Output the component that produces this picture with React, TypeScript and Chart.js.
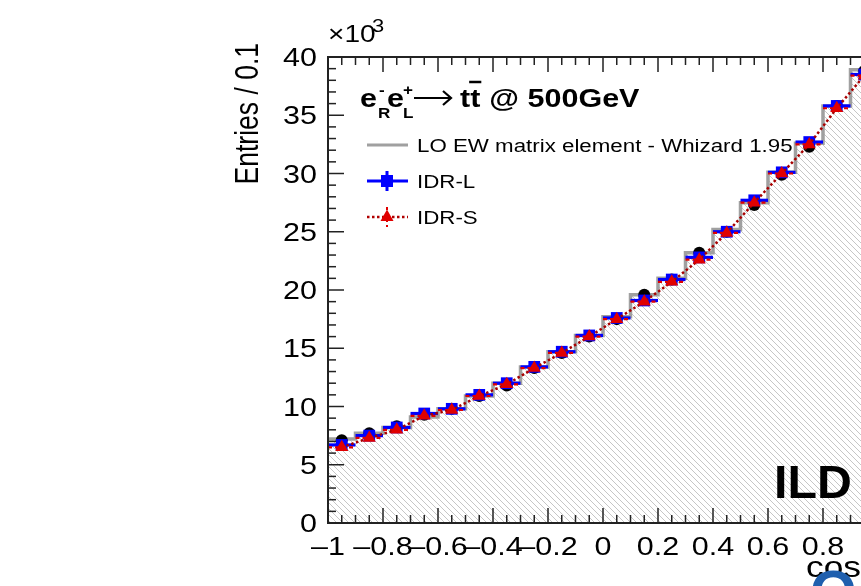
import React, { useEffect, useRef } from "react";
import { Chart, registerables } from "chart.js";

Chart.register(...registerables);

// ---- data (y values in units of 10^3 entries per 0.1 bin) ----
const binEdges = [-1, -0.9, -0.8, -0.7, -0.6, -0.5, -0.4, -0.3, -0.2, -0.1, 0, 0.1, 0.2, 0.3, 0.4, 0.5, 0.6, 0.7, 0.8, 0.9, 1];
const loWhizard = [7.2, 7.7, 8.2, 9.1, 9.8, 10.9, 12.0, 13.4, 14.7, 16.1, 17.7, 19.6, 21.0, 23.2, 25.2, 27.5, 30.1, 32.6, 35.8, 38.9];
const reference = [7.1, 7.7, 8.3, 9.3, 9.8, 10.9, 11.8, 13.3, 14.6, 16.0, 17.5, 19.6, 20.9, 23.2, 25.0, 27.3, 29.9, 32.3, 35.8, 38.8];
const idrL = [6.7, 7.5, 8.2, 9.4, 9.8, 11.0, 12.0, 13.4, 14.7, 16.1, 17.6, 19.1, 20.9, 22.8, 25.0, 27.7, 30.1, 32.7, 35.8, 38.5];
const idrS = [6.5, 7.3, 8.0, 9.2, 9.7, 10.9, 11.9, 13.3, 14.6, 16.0, 17.5, 19.0, 20.7, 22.6, 24.9, 27.5, 30.0, 32.5, 35.6, 38.4];

const yTickValues = [0, 5, 10, 15, 20, 25, 30, 35, 40];
const yTickLabels = ["0", "5", "10", "15", "20", "25", "30", "35", "40"];
const xTickValues = [-1, -0.8, -0.6, -0.4, -0.2, 0, 0.2, 0.4, 0.6, 0.8, 1];
const xTickLabels = ["\u20131", "\u20130.8", "\u20130.6", "\u20130.4", "\u20130.2", "0", "0.2", "0.4", "0.6", "0.8", "1"];
const legendLabels = ["LO EW matrix element - Whizard 1.95", "IDR-L", "IDR-S"];
const yAxisTitle = "Entries / 0.1";
const xAxisTitle = "cos\u03B8";

const FONT = '"Liberation Sans", Arial, Helvetica, sans-serif';
const SX = 1.22;

function txt(ctx: CanvasRenderingContext2D, s: string, x: number, y: number, font: string, align: CanvasTextAlign = "left", color = "#000", sx = SX) {
  ctx.save();
  ctx.translate(x, y);
  ctx.scale(sx, 1);
  ctx.font = font;
  ctx.textAlign = align;
  ctx.textBaseline = "alphabetic";
  ctx.fillStyle = color;
  ctx.fillText(s, 0, 0);
  ctx.restore();
}
function tw(ctx: CanvasRenderingContext2D, s: string, font: string, sx = SX) {
  ctx.save();
  ctx.font = font;
  const w = ctx.measureText(s).width * sx;
  ctx.restore();
  return w;
}

const centers = binEdges.slice(0, -1).map((e, i) => (e + binEdges[i + 1]) / 2);

const decor = {
  id: "decor",
  beforeDatasetDraw(chart: any, args: any) {
    const { ctx, scales } = chart;
    const x = scales.x, y = scales.y;
    if (args.index === 2) {
      ctx.save();
      ctx.strokeStyle = "#0000ff";
      ctx.lineWidth = 3.2;
      idrL.forEach((v, i) => {
        const py = y.getPixelForValue(v);
        ctx.beginPath();
        ctx.moveTo(x.getPixelForValue(binEdges[i]), py);
        ctx.lineTo(x.getPixelForValue(binEdges[i + 1]), py);
        ctx.stroke();
      });
      ctx.restore();
    }
    if (args.index === 3) {
      ctx.save();
      ctx.strokeStyle = "#e00000";
      ctx.lineWidth = 2.2;
      ctx.setLineDash([4, 3]);
      idrS.forEach((v, i) => {
        const py = y.getPixelForValue(v);
        ctx.beginPath();
        ctx.moveTo(x.getPixelForValue(binEdges[i]), py);
        ctx.lineTo(x.getPixelForValue(binEdges[i + 1]), py);
        ctx.stroke();
      });
      ctx.restore();
    }
  },
  afterDraw(chart: any) {
    const { ctx, scales, chartArea } = chart;
    const x = scales.x, y = scales.y;
    const { left, right, top, bottom } = chartArea;
    ctx.save();
    // frame
    ctx.strokeStyle = "#222";
    ctx.lineWidth = 2;
    ctx.beginPath();
    ctx.moveTo(right, top);
    ctx.lineTo(left, top);
    ctx.lineTo(left, bottom);
    ctx.lineTo(right, bottom);
    ctx.stroke();
    // y ticks
    ctx.lineWidth = 1.5;
    for (let k = 0; k <= 40; k++) {
      const py = y.getPixelForValue(k);
      const len = k % 5 === 0 ? 16 : 8;
      ctx.beginPath();
      ctx.moveTo(left, py);
      ctx.lineTo(left + len, py);
      ctx.stroke();
    }
    // x ticks (bottom & top)
    for (let k = 0; k <= 40; k++) {
      const v = -1 + k * 0.05;
      const px = x.getPixelForValue(v);
      const len = k % 4 === 0 ? 15 : 8;
      ctx.beginPath();
      ctx.moveTo(px, bottom);
      ctx.lineTo(px, bottom - len);
      ctx.moveTo(px, top);
      ctx.lineTo(px, top + len);
      ctx.stroke();
    }
    ctx.restore();

    // tick labels
    const tickFont = `25px ${FONT}`;
    yTickValues.forEach((v, i) => {
      txt(ctx, yTickLabels[i], left - 11, y.getPixelForValue(v) + 9, tickFont, "right");
    });
    xTickValues.forEach((v, i) => {
      txt(ctx, xTickLabels[i], x.getPixelForValue(v), bottom + 32, tickFont, "center");
    });

    // x10^3
    txt(ctx, "\u00D710", left, top - 15, `23px ${FONT}`, "left");
    txt(ctx, "3", left + 44, top - 25, `18px ${FONT}`, "left");

    // y axis title (rotated)
    ctx.save();
    ctx.translate(258, top - 14);
    ctx.scale(SX, 1);
    ctx.rotate(-Math.PI / 2);
    ctx.font = `26.5px ${FONT}`;
    ctx.textAlign = "right";
    ctx.textBaseline = "alphabetic";
    ctx.fillStyle = "#000";
    ctx.fillText(yAxisTitle, 0, 0);
    ctx.restore();

    // x axis title (cut at the right edge)
    txt(ctx, xAxisTitle, 806, 577, `29px ${FONT}`, "left");
    // partial blue logo at the bottom right
    txt(ctx, "O", 810, 612, `bold 60px ${FONT}`, "left", "#1f5fae", 1.0);

    // process title
    const bf = `bold 25px ${FONT}`;
    const sf = `bold 14px ${FONT}`;
    const by = 107;
    txt(ctx, "e", 360, by, bf);
    txt(ctx, "-", 379, by - 12, sf);
    txt(ctx, "R", 378, by + 11, sf);
    txt(ctx, "e", 387, by, bf);
    txt(ctx, "+", 403, by - 12, sf);
    txt(ctx, "L", 403, by + 11, sf);
    ctx.save();
    ctx.strokeStyle = "#000";
    ctx.lineWidth = 2.2;
    ctx.beginPath();
    ctx.moveTo(414, 98);
    ctx.lineTo(451, 98);
    ctx.moveTo(443, 91);
    ctx.lineTo(451, 98);
    ctx.lineTo(443, 105);
    ctx.stroke();
    ctx.restore();
    txt(ctx, "t", 460, by, bf);
    const tW = tw(ctx, "t", bf);
    txt(ctx, "t", 460 + tW, by, bf);
    ctx.save();
    ctx.strokeStyle = "#000";
    ctx.lineWidth = 2.5;
    ctx.beginPath();
    ctx.moveTo(460 + tW - 1, 82);
    ctx.lineTo(460 + 2 * tW + 1, 82);
    ctx.stroke();
    ctx.restore();
    txt(ctx, "@ 500GeV", 460 + 2 * tW + 9, by, bf);

    // legend
    const lf = `18.3px ${FONT}`;
    const lx0 = 367, lx1 = 408, lxm = 387, ltx = 417;
    const ly = [145, 181, 217];
    ctx.save();
    ctx.strokeStyle = "#a0a0a0";
    ctx.lineWidth = 3;
    ctx.beginPath();
    ctx.moveTo(lx0, ly[0]);
    ctx.lineTo(lx1, ly[0]);
    ctx.stroke();
    // IDR-L
    ctx.strokeStyle = "#0000ff";
    ctx.fillStyle = "#0000ff";
    ctx.beginPath();
    ctx.moveTo(lx0, ly[1]);
    ctx.lineTo(lx1, ly[1]);
    ctx.moveTo(lxm, ly[1] - 10);
    ctx.lineTo(lxm, ly[1] + 10);
    ctx.stroke();
    ctx.fillRect(lxm - 6, ly[1] - 6, 12, 12);
    // IDR-S
    ctx.strokeStyle = "#b00000";
    ctx.lineWidth = 2.5;
    ctx.setLineDash([2.5, 2.5]);
    ctx.beginPath();
    ctx.moveTo(lx0, ly[2]);
    ctx.lineTo(lx1, ly[2]);
    ctx.stroke();
    ctx.strokeStyle = "#e00000";
    ctx.lineWidth = 2;
    ctx.setLineDash([3, 3]);
    ctx.beginPath();
    ctx.moveTo(lxm, ly[2] - 10);
    ctx.lineTo(lxm, ly[2] + 10);
    ctx.stroke();
    ctx.setLineDash([]);
    ctx.fillStyle = "#e00000";
    ctx.beginPath();
    ctx.moveTo(lxm, ly[2] - 7.5);
    ctx.lineTo(lxm + 6.5, ly[2] + 4);
    ctx.lineTo(lxm - 6.5, ly[2] + 4);
    ctx.closePath();
    ctx.fill();
    ctx.restore();
    legendLabels.forEach((s, i) => txt(ctx, s, ltx, ly[i] + 6.5, lf));

    // ILD label
    txt(ctx, "ILD", 774, 498, `bold 46px ${FONT}`, "left", "#000", 1.05);
  },
};

export default function App() {
  const ref = useRef<HTMLCanvasElement | null>(null);
  useEffect(() => {
    const canvas = ref.current;
    if (!canvas) return;
    const pc = document.createElement("canvas");
    pc.width = 6;
    pc.height = 6;
    const p = pc.getContext("2d")!;
    p.strokeStyle = "#c6c6c6";
    p.lineWidth = 1;
    p.beginPath();
    p.moveTo(-1, -1);
    p.lineTo(7, 7);
    p.moveTo(5, -1);
    p.lineTo(7, 1);
    p.moveTo(-1, 5);
    p.lineTo(1, 7);
    p.stroke();
    const ctx = canvas.getContext("2d")!;
    const hatch = ctx.createPattern(pc, "repeat");

    const stepData = binEdges.map((e, i) => ({ x: e, y: loWhizard[Math.min(i, loWhizard.length - 1)] }));
    const pts = (arr: number[]) => arr.map((v, i) => ({ x: centers[i], y: v }));

    const chart = new Chart(canvas, {
      type: "line",
      data: {
        datasets: [
          {
            label: legendLabels[0],
            data: stepData,
            stepped: true,
            borderColor: "#a0a0a0",
            borderWidth: 3.5,
            pointRadius: 0,
            fill: "origin",
            backgroundColor: hatch as any,
            order: 5,
          },
          {
            label: "reference",
            data: pts(reference),
            showLine: false,
            pointStyle: "circle",
            pointRadius: 6,
            pointBackgroundColor: "#000",
            pointBorderWidth: 0,
            order: 4,
          },
          {
            label: legendLabels[1],
            data: pts(idrL),
            showLine: false,
            pointStyle: "rect",
            pointRadius: 8.3,
            pointBackgroundColor: "#0000ff",
            pointBorderWidth: 0,
            order: 3,
          },
          {
            label: legendLabels[2],
            data: pts(idrS),
            showLine: true,
            borderColor: "#a80000",
            borderWidth: 2.5,
            borderDash: [2.5, 2.5],
            pointStyle: "triangle",
            pointRadius: 7.5,
            pointBackgroundColor: "#e00000",
            pointBorderWidth: 0,
            fill: false,
            order: 1,
          },
        ] as any,
      },
      options: {
        responsive: false,
        animation: false,
        devicePixelRatio: 1,
        events: [],
        layout: { padding: { left: 328, top: 57, right: 122, bottom: 63 } },
        plugins: { legend: { display: false }, tooltip: { enabled: false } },
        scales: {
          x: { type: "linear", min: -1, max: 1, display: false },
          y: { type: "linear", min: 0, max: 40, display: false },
        },
      },
      plugins: [decor],
    });
    return () => chart.destroy();
  }, []);

  return (
    <div style={{ position: "fixed", left: 0, top: 0, width: 861, height: 586, overflow: "hidden", background: "#fff" }}>
      <canvas ref={ref} width={1000} height={586} style={{ display: "block", width: 1000, height: 586 }} />
    </div>
  );
}
